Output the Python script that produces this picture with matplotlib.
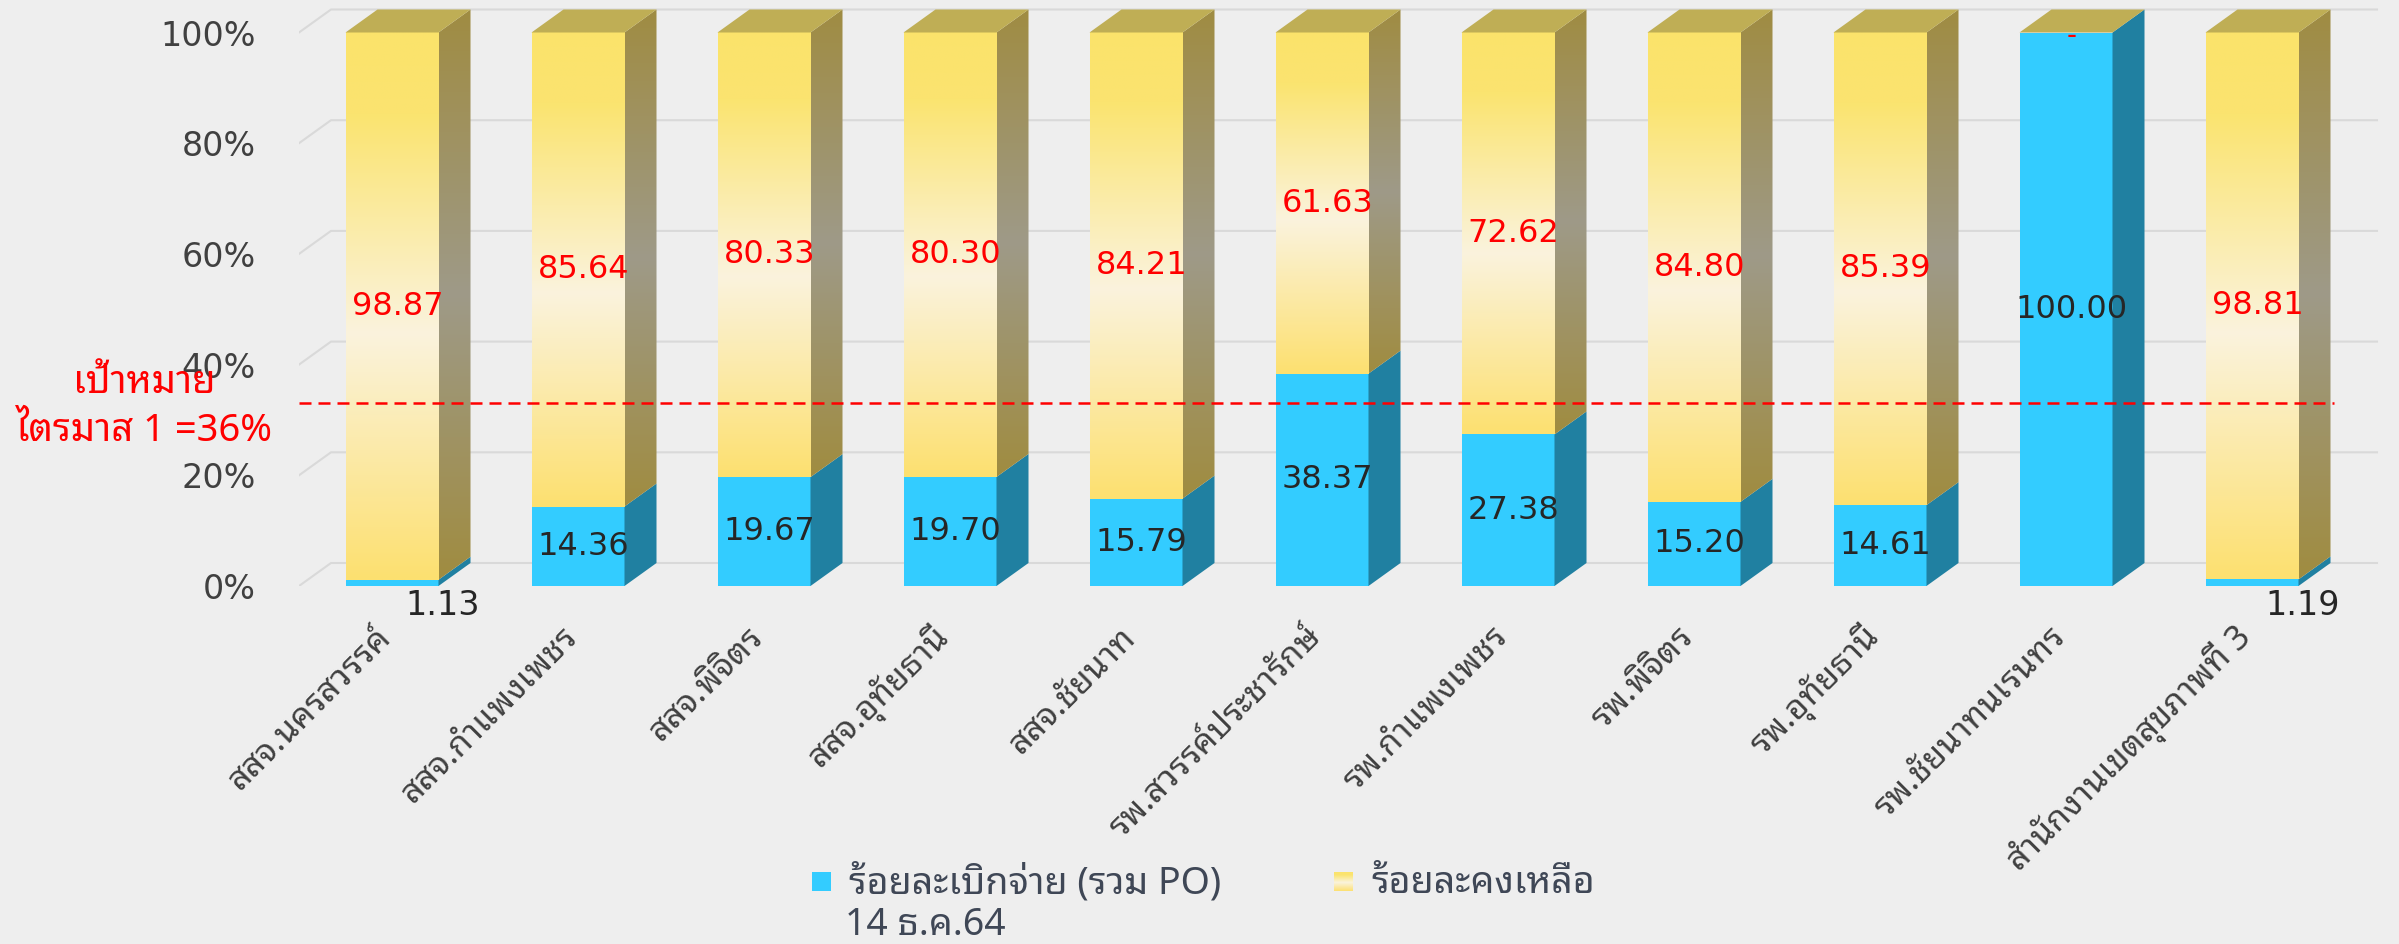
import numpy as np
import matplotlib
matplotlib.use('agg')
import matplotlib.pyplot as plt
from matplotlib.patches import Polygon, Rectangle

categories = ['สสจ.นครสวรรค์', 'สสจ.กำแพงเพชร', 'สสจ.พิจิตร', 'สสจ.อุทัยธานี', 'สสจ.ชัยนาท',
              'รพ.สวรรค์ประชารักษ์', 'รพ.กำแพงเพชร', 'รพ.พิจิตร', 'รพ.อุทัยธานี', 'รพ.ชัยนาทนเรนทร',
              'สำนักงานเขตสุขภาพที่ 3']
spent = [1.13, 14.36, 19.67, 19.70, 15.79, 38.37, 27.38, 15.20, 14.61, 100.00, 1.19]
remain = [98.87, 85.64, 80.33, 80.30, 84.21, 61.63, 72.62, 84.80, 85.39, 0.00, 98.81]
yticks = [0, 20, 40, 60, 80, 100]
target_line = 33
series_names = ['ร้อยละเบิกจ่าย (รวม PO)', 'ร้อยละคงเหลือ']
legend_date = '14 ธ.ค.64'
target_text = ['เป้าหมาย', 'ไตรมาส 1 =36%']

thai = ['Noto Sans Thai Looped', 'DejaVu Sans']
plt.rcParams['font.family'] = ['DejaVu Sans']

W, H = 2399, 944
fig = plt.figure(figsize=(W / 100, H / 100), dpi=100, facecolor='#eeeeee')
xpx, ypx = 186.0, 5.535       # pixels per category / per percent
x0px, y0px = 299, 586
xlim = (-0.5, 10.75)
ylim = (0, 105.5)
ax = fig.add_axes([x0px / W, (H - y0px) / H, (xlim[1] - xlim[0]) * xpx / W, (ylim[1] - ylim[0]) * ypx / H])
ax.set_facecolor('none')
for s in ax.spines.values():
    s.set_visible(False)

dx, dy = 32 / xpx, 23 / ypx
bw = 0.5

# back wall grid
for t in yticks:
    ax.plot([xlim[0], xlim[0] + dx, 10.5 + dx], [t, t + dy, t + dy], color='#d9d9d9', lw=1.5, zorder=0)


def grad(stops, n=200):
    pos = np.array([s[0] for s in stops])
    cols = np.array([s[1] for s in stops], float) / 255
    t = np.linspace(0, 1, n)
    return np.stack([np.interp(t, pos, cols[:, k]) for k in range(3)], axis=1)[:, None, :]


front_y = grad([(0, (253, 224, 112)), (0.45, (250, 243, 221)), (0.85, (251, 228, 112)), (1, (251, 227, 107))])
side_y = grad([(0, (160, 140, 64)), (0.5, (158, 154, 136)), (1, (160, 140, 66))])

for i in range(len(categories)):
    xl, xr = i - bw / 2, i + bw / 2
    b, tp = spent[i], spent[i] + remain[i]
    # blue part
    ax.add_patch(Rectangle((xl, 0), bw, b, facecolor='#33ccff', edgecolor='none', zorder=2))
    ax.add_patch(Polygon([(xr, 0), (xr + dx, dy), (xr + dx, b + dy), (xr, b)],
                         facecolor='#2080a1', edgecolor='none', zorder=2))
    # yellow part
    if remain[i] > 0:
        ax.imshow(front_y, extent=[xl, xr, b, tp], origin='lower', aspect='auto',
                  interpolation='bilinear', zorder=2)
        side = Polygon([(xr, b), (xr + dx, b + dy), (xr + dx, tp + dy), (xr, tp)],
                       facecolor='none', edgecolor='none', zorder=2)
        ax.add_patch(side)
        im = ax.imshow(side_y, extent=[xr, xr + dx, b, tp + dy], origin='lower', aspect='auto',
                       interpolation='bilinear', zorder=2)
        im.set_clip_path(side)
    ax.add_patch(Polygon([(xl, tp), (xl + dx, tp + dy), (xr + dx, tp + dy), (xr, tp)],
                         facecolor='#bfae55', edgecolor='none', zorder=2))

    # labels
    if b < 5:
        ax.text(i + 0.27, -3.6, f'{b:.2f}', ha='center', va='center', fontsize=24, color='#262626', zorder=5)
    else:
        ax.text(i + 0.03, b / 2, f'{b:.2f}', ha='center', va='center', fontsize=23, color='#262626', zorder=5)
    if remain[i] > 0:
        ax.text(i + 0.03, b + remain[i] / 2, f'{remain[i]:.2f}', ha='center', va='center',
                fontsize=23, color='#ff0000', zorder=5)
    else:
        ax.text(i + 0.03, tp - 0.6, '-', ha='center', va='center', fontsize=20, color='#ff0000', zorder=5)

    ax.text(i - 0.03, -8.3, categories[i], rotation=45, ha='right', va='center', rotation_mode='anchor',
            fontsize=24.5, color='#404040', family=thai)

ax.hlines(target_line, xlim[0], 10.44, colors='#ff0000', lw=1.8, linestyles=(0, (4.8, 2.8)), zorder=4)
ax.text(-1.33, 36.7, target_text[0], ha='center', va='center', fontsize=27.5, color='#ff0000',
        clip_on=False, family=thai)
ax.text(-1.33, 28.0, target_text[1], ha='center', va='center', fontsize=27.5, color='#ff0000',
        clip_on=False, family=thai)

ax.set_xlim(*xlim)
ax.set_ylim(*ylim)
ax.set_xticks([])
ax.set_yticks(yticks)
ax.set_yticklabels([f'{t}%' for t in yticks], fontsize=24, color='#404040')
ax.tick_params(axis='y', length=0, pad=31)

# legend
lc = '#3f4756'
fig.add_artist(Rectangle((812 / W, 1 - 891 / H), 19 / W, 19 / H, transform=fig.transFigure,
                         facecolor='#33ccff', edgecolor='none'))
fig.text(849 / W, 1 - 883 / H, series_names[0], ha='left', va='center', fontsize=27, color=lc, family=thai)
fig.text(845 / W, 1 - 925 / H, legend_date, ha='left', va='center', fontsize=27, color=lc, family=thai)
lax = fig.add_axes([1334 / W, 1 - 891 / H, 19 / W, 19 / H])
lax.imshow(front_y, origin='lower', aspect='auto', interpolation='bilinear')
lax.axis('off')
fig.text(1371 / W, 1 - 883 / H, series_names[1], ha='left', va='center', fontsize=27, color=lc, family=thai)

fig.savefig('out.png', dpi=100, facecolor=fig.get_facecolor())
